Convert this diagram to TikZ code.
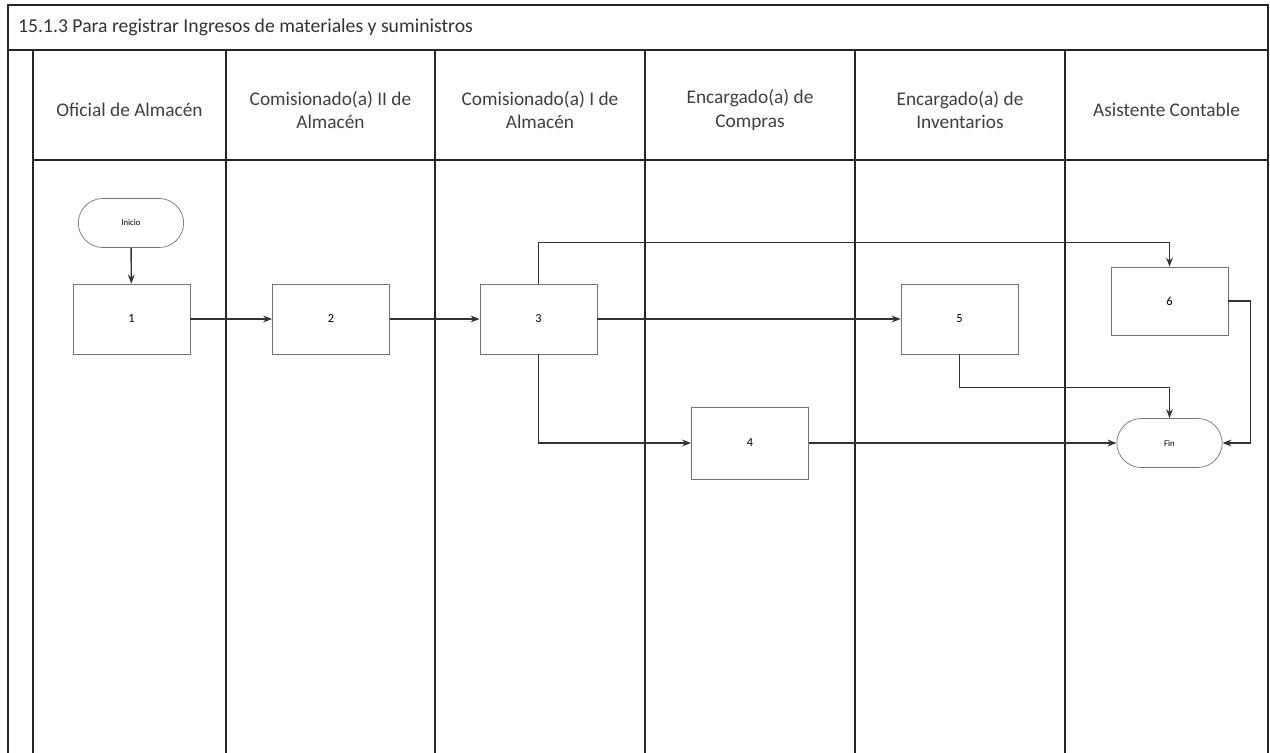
\documentclass[tikz,border=0pt]{standalone}
\usepackage{fontspec}
\setmainfont{Carlito}
\usetikzlibrary{arrows.meta,positioning,shapes.misc}

\begin{document}
\begin{tikzpicture}[x=0.2mm,y=-0.2mm,
  lane/.style={line width=0.9pt,black!85},
  hdr/.style={font=\fontsize{11}{13.5}\selectfont,align=center,text=black!75},
  proc/.style={draw=black!55,minimum width=23.4mm,minimum height=14mm,font=\scriptsize},
  term/.style={draw=black!55,rounded rectangle,minimum width=23.4mm,minimum height=9.8mm,font=\tiny},
  arr/.style={-{Stealth[length=1.8mm]},thick,black!80}]
\useasboundingbox (0,0) rectangle (1270,753);
% frame and lanes
\draw[lane] (8,753) -- (8,5) -- (1268,5) -- (1268,753);
\draw[lane] (8,50) -- (1268,50);
\draw[lane] (33,160) -- (1268,160);
\foreach \x in {33,226,435,645,855,1065}
  \draw[lane] (\x,50) -- (\x,753);
\node[anchor=west,font=\fontsize{11.2}{13}\selectfont,text=black!80] (titulo) at (12,27) {15.1.3 Para registrar Ingresos de materiales y suministros};
\node[hdr] (h1) at (129.5,110) {Oficial de Almacén};
\node[hdr] (h2) at (330.5,110) {Comisionado(a) II de\\Almacén};
\node[hdr] (h3) at (540,110) {Comisionado(a) I de\\Almacén};
\node[hdr] (h4) at (750,110) {Encargado(a) de\\Compras};
\node[hdr] (h5) at (960,110) {Encargado(a) de\\Inventarios};
\node[hdr] (h6) at (1166.5,110) {Asistente Contable};
% steps
\node[term] (ini) at (131,223) {Inicio};
\node[proc] (p1) at (131.5,319) {1};
\node[proc] (p2) at (331,319) {2};
\node[proc] (p3) at (538.5,319) {3};
\node[proc] (p5) at (959.5,319) {5};
\node[proc,minimum height=14.4mm] (p4) at (750,443) {4};
\node[proc,minimum height=13.6mm] (p6) at (1169.5,301) {6};
\node[term] (fin) at (1169.5,443) {Fin};
\draw[arr] (ini) -- (p1);
\draw[arr] (p1) -- (p2);
\draw[arr] (p2) -- (p3);
\draw[arr] (p3) -- (p5);
\draw[arr] (p3.north) -- ++(0,-41) -| (p6.north);
\draw[arr] (p3.south) |- (p4.west);
\draw[arr] (p4) -- (fin);
\draw[arr] (p5.south) -- ++(0,33) -| (fin.north);
\draw[arr] (p6.east) -- ++(22,0) |- (fin.east);
\end{tikzpicture}
\end{document}
